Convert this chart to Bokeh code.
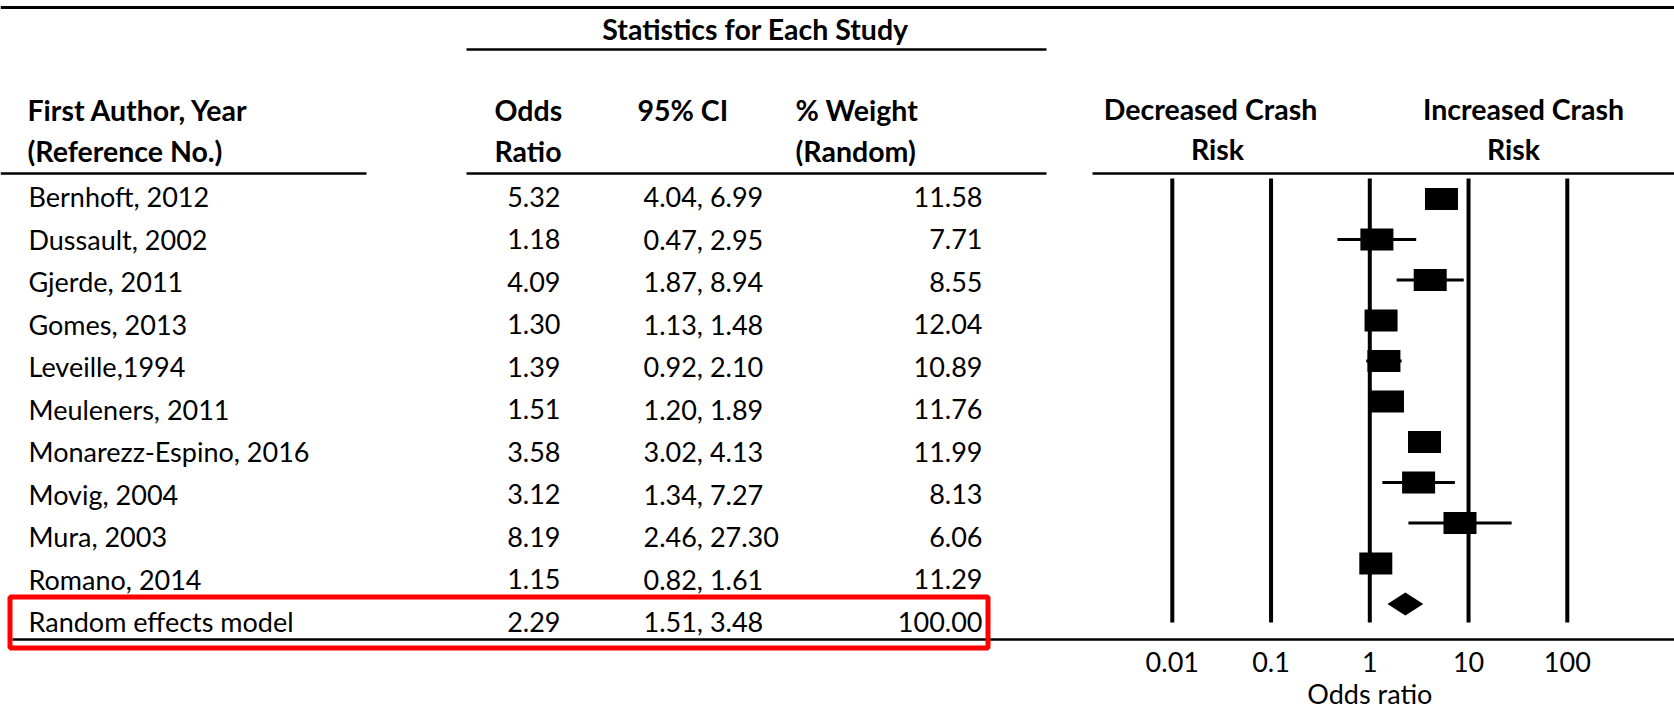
from bokeh.plotting import figure
from bokeh.models import Range1d, LinearScale, LogScale
from bokeh.embed import file_html
from bokeh.resources import INLINE
from bokeh.core.properties import value

# ---------------- data ----------------
studies = ["Bernhoft, 2012", "Dussault, 2002", "Gjerde, 2011", "Gomes, 2013",
           "Leveille,1994", "Meuleners, 2011", "Monarezz-Espino, 2016",
           "Movig, 2004", "Mura, 2003", "Romano, 2014"]
odds_ratio = [5.32, 1.18, 4.09, 1.30, 1.39, 1.51, 3.58, 3.12, 8.19, 1.15]
ci_low = [4.04, 0.47, 1.87, 1.13, 0.92, 1.20, 3.02, 1.34, 2.46, 0.82]
ci_high = [6.99, 2.95, 8.94, 1.48, 2.10, 1.89, 4.13, 7.27, 27.30, 1.61]
weight = [11.58, 7.71, 8.55, 12.04, 10.89, 11.76, 11.99, 8.13, 6.06, 11.29]

pooled_label = "Random effects model"
pooled_or = 2.29
pooled_low = 1.51
pooled_high = 3.48
pooled_weight = 100.00

axis_ticks = [0.01, 0.1, 1, 10, 100]
axis_tick_labels = ["0.01", "0.1", "1", "10", "100"]

# ---------------- layout constants ----------------
FONT = value("Lato")
FS = "27px"
FSB = "28.5px"
W, H = 1674, 714

all_labels = studies + [pooled_label]
all_or = odds_ratio + [pooled_or]
all_low = ci_low + [pooled_low]
all_high = ci_high + [pooled_high]
all_w = weight + [pooled_weight]
row_idx = list(range(len(all_labels)))

or_txt = ["%.2f" % v for v in all_or]
ci_txt = ["%.2f, %.2f" % (a, b) for a, b in zip(all_low, all_high)]
w_txt = ["%.2f" % v for v in all_w]

# table rows: first row anchor at px 196, pitch 42.5
T0, TP = 196.0, 42.5
# forest rows: first row at px 198.6, pitch 40.5
F0, FP = 198.6, 40.5
# odds-ratio scale: 1 at px 1369.3, 98.75 px per decade
ONE_PX, DEC = 1369.3, 98.75

p = figure(width=W, height=H, output_backend="svg", toolbar_location=None,
           x_range=Range1d(0, W), y_range=Range1d((H - T0) / TP, -T0 / TP),
           x_axis_location=None, y_axis_location=None, min_border=0)
p.extra_y_ranges = {"px": Range1d(H, 0),
                    "forest": Range1d((H - F0) / FP, -F0 / FP)}
p.extra_y_scales = {"px": LinearScale(), "forest": LinearScale()}
p.extra_x_ranges = {"or": Range1d(10 ** (-ONE_PX / DEC), 10 ** ((W - ONE_PX) / DEC))}
p.extra_x_scales = {"or": LogScale()}
p.outline_line_color = None
p.xgrid.visible = False
p.ygrid.visible = False

# rules
p.segment(x0=[0, 466, 0, 466, 1092, 12], x1=[W, 1046, 366, 1046, W, W],
          y0=[7, 49, 173, 173, 173, 639], y1=[7, 49, 173, 173, 173, 639],
          line_color="black", line_width=[3, 2.5, 2.5, 2.5, 2.5, 2.5],
          y_range_name="px")

# header texts
p.text(x=[755], y=[28], text=["Statistics for Each Study"], text_font=FONT,
       text_font_size=FSB, text_font_style="bold", text_align="center",
       text_baseline="middle", y_range_name="px")
p.text(x=[27, 27, 494, 494, 637, 795, 795], y=[109, 150, 109, 150, 109, 109, 150],
       text=["First Author, Year", "(Reference No.)", "Odds", "Ratio", "95% CI",
             "% Weight", "(Random)"],
       text_font=FONT, text_font_size=FSB, text_font_style="bold",
       text_align="left", text_baseline="middle", y_range_name="px")
p.text(x=[1210, 1217, 1523, 1513], y=[108, 148, 108, 148],
       text=["Decreased Crash", "Risk", "Increased Crash", "Risk"],
       text_font=FONT, text_font_size=FSB, text_font_style="bold",
       text_align="center", text_baseline="middle", y_range_name="px")

# table body
p.text(x=28, y=row_idx, text=all_labels, text_font=FONT, text_font_size=FS,
       text_align="left", text_baseline="middle")
p.text(x=560, y=row_idx, text=or_txt, text_font=FONT, text_font_size=FS,
       text_align="right", text_baseline="middle")
p.text(x=643, y=row_idx, text=ci_txt, text_font=FONT, text_font_size=FS,
       text_align="left", text_baseline="middle")
p.text(x=982, y=row_idx, text=w_txt, text_font=FONT, text_font_size=FS,
       text_align="right", text_baseline="middle")

# red highlight box
p.quad(left=[9.5], right=[987.5], top=[596.5], bottom=[647.5], fill_color=None,
       line_color="#ff0000", line_width=5, y_range_name="px")

# ---------------- forest plot ----------------
p.segment(x0=axis_ticks, x1=axis_ticks, y0=178, y1=622, line_color="black",
          line_width=4, x_range_name="or", y_range_name="px")

study_idx = list(range(len(studies)))
p.segment(x0=ci_low, x1=ci_high, y0=study_idx, y1=study_idx,
          line_color="black", line_width=3, x_range_name="or", y_range_name="forest")
p.rect(x=odds_ratio, y=study_idx, width=33, height=22, width_units="screen",
       height_units="screen", fill_color="black", line_color=None,
       x_range_name="or", y_range_name="forest")

pi = len(studies)
dh = 11.5 / FP
p.patch(x=[pooled_low, pooled_or, pooled_high, pooled_or],
        y=[pi, pi - dh, pi, pi + dh], fill_color="black", line_color=None,
        x_range_name="or", y_range_name="forest")

# tick labels and axis title
p.text(x=axis_ticks, y=661, text=axis_tick_labels, text_font=FONT,
       text_font_size=FS, text_align="center", text_baseline="middle",
       x_range_name="or", y_range_name="px")
p.text(x=[1], y=[693], text=["Odds ratio"], text_font=FONT, text_font_size=FS,
       text_align="center", text_baseline="middle",
       x_range_name="or", y_range_name="px")

open("out.html", "w").write(file_html(p, INLINE))
